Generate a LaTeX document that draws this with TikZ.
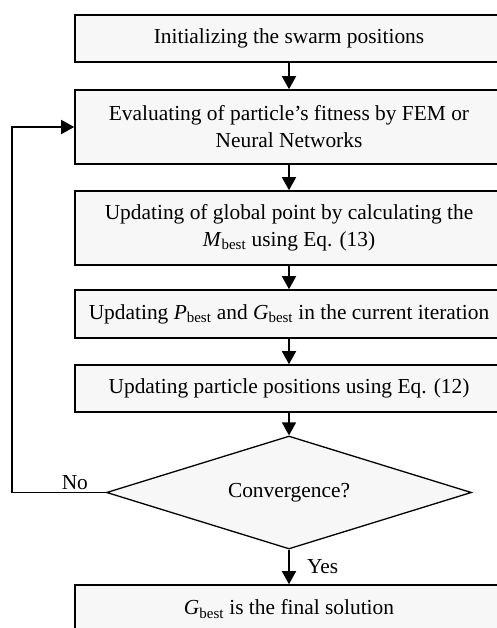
\documentclass[tikz,border=0pt]{standalone}
\usepackage{fontspec}
\setmainfont{Liberation Serif}
\usetikzlibrary{arrows.meta,shapes.geometric}
\newcommand{\best}[1]{\textit{#1}\textsubscript{best}}
\begin{document}
\begin{tikzpicture}[x=1pt,y=-1pt,
    font=\fontsize{21.4}{27}\selectfont,
    box/.style={draw,line width=1.6pt,fill=black!3,minimum width=428pt,align=center,inner sep=0pt},
    test/.style={diamond,aspect=3.23,draw,line width=1.3pt,fill=black!3,minimum width=365pt,minimum height=113pt,inner sep=0pt},
    arr/.style={line width=1.6pt,-{Triangle[length=13pt,width=14pt]}}]
        \useasboundingbox (0,0) rectangle (496,628);
        \node[box,minimum height=47pt] (init) at (289,38.5) {Initializing the swarm positions};
        \node[box,minimum height=74pt] (eval) at (289,127) {Evaluating of particle’s fitness by FEM or\\Neural Networks};
        \node[box,minimum height=74pt] (glob) at (289,228) {Updating of global point by calculating the\\\best{M} using Eq. (13)};
        \node[box,minimum height=48pt] (pbest) at (289,314) {Updating \best{P} and \best{G} in the current iteration};
        \node[box,minimum height=47pt] (pos) at (289,388.5) {Updating particle positions using Eq. (12)};
        \node[test] (conv) at (289,492.5) {Convergence?};
        \node[box,minimum height=48pt] (final) at (289,609) {\best{G} is the final solution};
        \draw[arr] (init) -- (eval);
        \draw[arr] (eval) -- (glob);
        \draw[arr] (glob) -- (pbest);
        \draw[arr] (pbest) -- (pos);
        \draw[arr] (pos) -- (conv);
        \draw[arr] (conv.south) -- node[right,xshift=14pt] (yes) {Yes} (final);
        \draw[arr] (conv.west) -- node[above,pos=0.33,inner sep=2pt] (no) {No} ++(-94,0) |- (eval.west);
    \end{tikzpicture}
\end{document}
